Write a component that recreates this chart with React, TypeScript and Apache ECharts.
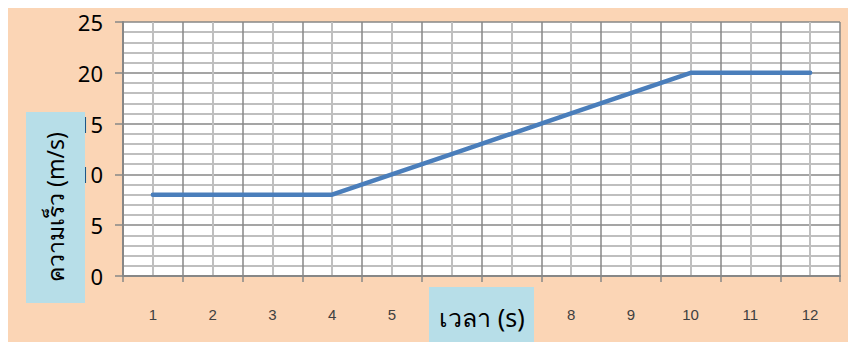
import React, { useEffect, useRef } from "react";
import * as echarts from "echarts";

// time (s) on the x axis, speed (m/s) on the y axis
const timeLabels = ["1", "2", "3", "4", "5", "6", "7", "8", "9", "10", "11", "12"];
const speedValues = [8, 8, 8, 8, 10, 12, 14, 16, 18, 20, 20, 20];
const yTitle = "ความเร็ว (m/s)";
const xTitle = "เวลา (s)";

const PEACH = "#FBD5B5";
const AQUA = "#B7DEE8";
const MAJOR = "#878787";
const MINOR = "#BFBFBF";

export default function App() {
  const ref = useRef<HTMLDivElement>(null);

  useEffect(() => {
    if (!ref.current) return;
    const chart = echarts.init(ref.current, undefined, { renderer: "svg" });
    chart.setOption({
      animation: false,
      backgroundColor: PEACH,
      grid: { left: 115, top: 15, right: 16, bottom: 66, backgroundColor: "#fff", show: true, borderWidth: 0 },
      xAxis: [
        {
          type: "category",
          data: timeLabels,
          boundaryGap: true,
          axisLine: { lineStyle: { color: MAJOR, width: 2 } },
          axisTick: { show: true, length: 6, lineStyle: { color: MAJOR, width: 1.5 } },
          axisLabel: { color: "#404040", fontSize: 15, fontFamily: "Liberation Sans", margin: 31 },
          splitLine: { show: false },
          z: 5,
        },
        {
          // vertical grid: dark at category boundaries, light at category centres
          type: "value",
          min: 0,
          max: 12,
          interval: 1,
          show: true,
          position: "bottom",
          axisLine: { show: false },
          axisTick: { show: false },
          axisLabel: { show: false },
          splitLine: { show: true, lineStyle: { color: MAJOR, width: 1.5 } },
          minorTick: { show: false, splitNumber: 2 },
          minorSplitLine: { show: true, lineStyle: { color: MINOR, width: 2 } },
        },
      ],
      yAxis: {
        type: "value",
        min: 0,
        max: 25,
        interval: 5,
        axisLine: { show: true, lineStyle: { color: MAJOR, width: 2 } },
        axisTick: { show: true, length: 8, lineStyle: { color: MAJOR, width: 1.5 } },
        axisLabel: { color: "#000", fontSize: 22, fontFamily: "Noto Sans", margin: 20 },
        splitLine: { show: true, lineStyle: { color: MAJOR, width: 1.5 } },
        minorTick: { show: false, splitNumber: 5 },
        minorSplitLine: { show: true, lineStyle: { color: MINOR, width: 2 } },
      },
      series: [
        {
          type: "line",
          xAxisIndex: 0,
          data: speedValues,
          showSymbol: false,
          symbol: "none",
          lineStyle: { color: "#4A7EBB", width: 4.5, cap: "round" },
          z: 10,
        },
      ],
      graphic: [
        {
          type: "rect",
          left: 18,
          top: 105,
          shape: { width: 59, height: 191 },
          style: { fill: AQUA },
          z: 100,
        },
        {
          type: "text",
          x: 47,
          y: 200,
          rotation: Math.PI / 2,
          style: {
            text: yTitle,
            fill: "#000",
            fontSize: 23,
            fontFamily: "Noto Sans",
            align: "center",
            verticalAlign: "middle",
          },
          z: 101,
        },
        {
          type: "rect",
          left: 421,
          top: 280,
          shape: { width: 105, height: 62 },
          style: { fill: AQUA },
          z: 100,
        },
        {
          type: "text",
          x: 474,
          y: 310,
          style: {
            text: xTitle,
            fill: "#000",
            fontSize: 25,
            fontFamily: "Noto Sans",
            align: "center",
            verticalAlign: "middle",
          },
          z: 101,
        },
      ],
    });
    return () => chart.dispose();
  }, []);

  return <div ref={ref} style={{ width: 848, height: 335, marginTop: -1 }} />;
}
